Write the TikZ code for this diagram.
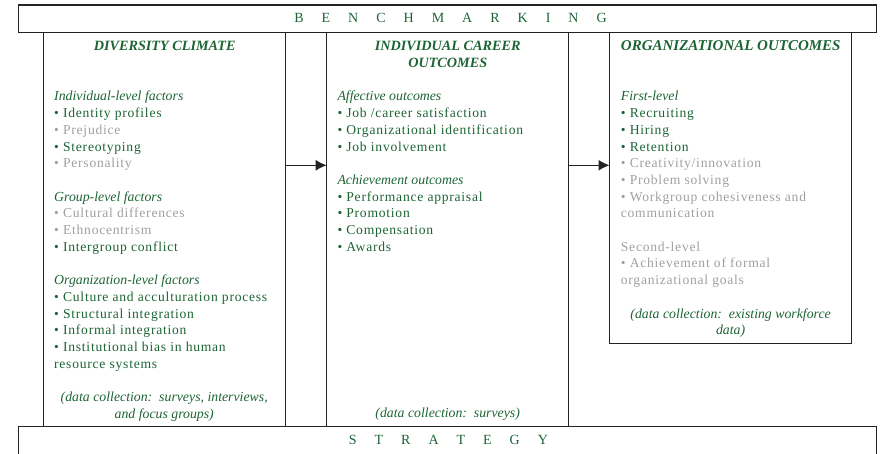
\documentclass[tikz,border=0pt]{standalone}
\usepackage{fontspec}
\setmainfont{Liberation Serif}
\newfontfamily\bodyfont[LetterSpace=5.5]{Liberation Serif}
\usetikzlibrary{arrows.meta}
\definecolor{dgreen}{RGB}{28,100,52}
\definecolor{lgrey}{RGB}{160,160,160}
\definecolor{edgec}{RGB}{35,35,35}
\newcommand{\ihead}[1]{{\fontsize{13.8bp}{16.7bp}\selectfont\itshape #1}}
\newcommand{\gi}[1]{{\bodyfont •\ #1}}
\newcommand{\gr}[1]{\textcolor{lgrey}{\bodyfont •\ #1}}
\newcommand{\gl}[1]{\textcolor{lgrey}{\bodyfont #1}}
\newcommand{\gp}[1]{{\bodyfont #1}}
\begin{document}
\begin{tikzpicture}[x=1bp,y=-1bp,
  frame/.style={draw=edgec, line width=1.3bp, inner sep=0pt, outer sep=0pt, anchor=north west},
  body/.style={anchor=base west, align=left, inner sep=0pt, text=dgreen,
    font=\fontsize{13.6bp}{16.7bp}\selectfont},
  title/.style={anchor=base, align=center, inner sep=0pt, text=dgreen,
    font=\fontsize{14.2bp}{16.7bp}\selectfont\bfseries\itshape},
  datac/.style={anchor=base, align=center, inner sep=0pt, text=dgreen,
    font=\fontsize{13.8bp}{16.7bp}\selectfont\itshape},
  banner/.style={anchor=base, inner sep=0pt, text=dgreen,
    font=\fontsize{14bp}{16.7bp}\selectfont},
  flow/.style={draw=edgec, line width=1.3bp, -{Latex[length=11bp,width=11bp]}}]
\useasboundingbox (0,0) rectangle (882,454);
% frames
\node[frame, minimum width=858bp, minimum height=27.7bp] (bench) at (18.5,5) {};
\node[frame, minimum width=858bp, minimum height=40bp] (strat) at (18.7,426.7) {};
\node[frame, minimum width=242bp, minimum height=394bp] (dc) at (43.7,32.7) {};
\node[frame, minimum width=242bp, minimum height=394bp] (ico) at (326.7,32.7) {};
\node[frame, minimum width=242bp, minimum height=310.6bp] (oo) at (609.5,32.7) {};
% banners
\node[banner] (benchtxt) at (450.5,22.7) {B\hspace{18bp}E\hspace{18bp}N\hspace{18bp}C\hspace{18bp}H\hspace{18bp}M\hspace{18bp}A\hspace{18bp}R\hspace{18bp}K\hspace{18bp}I\hspace{18bp}N\hspace{18bp}G};
\node[banner] (strattxt) at (448.4,444.7) {S\hspace{18bp}T\hspace{18bp}R\hspace{18bp}A\hspace{18bp}T\hspace{18bp}E\hspace{18bp}G\hspace{18bp}Y};
% titles (anchor = baseline of last line)
\node[title] (dct) at (164.7,50.9) {DIVERSITY CLIMATE};
\node[title] (icot) at (447.7,67.6) {INDIVIDUAL CAREER\\OUTCOMES};
\node[title, font=\fontsize{15bp}{16.7bp}\selectfont\bfseries\itshape] (oot) at (730.8,50.9) {ORGANIZATIONAL OUTCOMES};
% bodies (anchor = baseline of last line)
\node[body] (dcb) at (54,368.2) {\ihead{Individual-level factors}\\
\gi{Identity profiles}\\
\gr{Prejudice}\\
\gi{Stereotyping}\\
\gr{Personality}\\[16.7bp]
\ihead{Group-level factors}\\
\gr{Cultural differences}\\
\gr{Ethnocentrism}\\
\gi{Intergroup conflict}\\[16.7bp]
\ihead{Organization-level factors}\\
\gi{Culture and acculturation process}\\
\gi{Structural integration}\\
\gi{Informal integration}\\
\gi{Institutional bias in human}\\
\gp{resource systems}};
\node[body] (icob) at (337.3,251.3) {\ihead{Affective outcomes}\\
\gi{Job /career satisfaction}\\
\gi{Organizational identification}\\
\gi{Job involvement}\\[16.7bp]
\ihead{Achievement outcomes}\\
\gi{Performance appraisal}\\
\gi{Promotion}\\
\gi{Compensation}\\
\gi{Awards}};
\node[body] (oob) at (620.7,284.7) {\ihead{First-level}\\
\gi{Recruiting}\\
\gi{Hiring}\\
\gi{Retention}\\
\gr{Creativity/innovation}\\
\gr{Problem solving}\\
\gr{Workgroup cohesiveness and}\\
\gl{communication}\\[16.7bp]
\gl{Second-level}\\
\gr{Achievement of formal}\\
\gl{organizational goals}};
% data collection
\node[datac] (dcd) at (164.2,418.6) {(data collection:\ \ surveys, interviews,\\and focus groups)};
\node[datac] (icod) at (447.7,417) {(data collection:\ \ surveys)};
\node[datac] (ood) at (730.6,334.8) {(data collection:\ \ existing workforce\\data)};
% arrows
\coordinate (ay) at (0,165.3);
\draw[flow] (dc.east |- ay) -- (ico.west |- ay);
\draw[flow] (ico.east |- ay) -- (oo.west |- ay);
\end{tikzpicture}
\end{document}
